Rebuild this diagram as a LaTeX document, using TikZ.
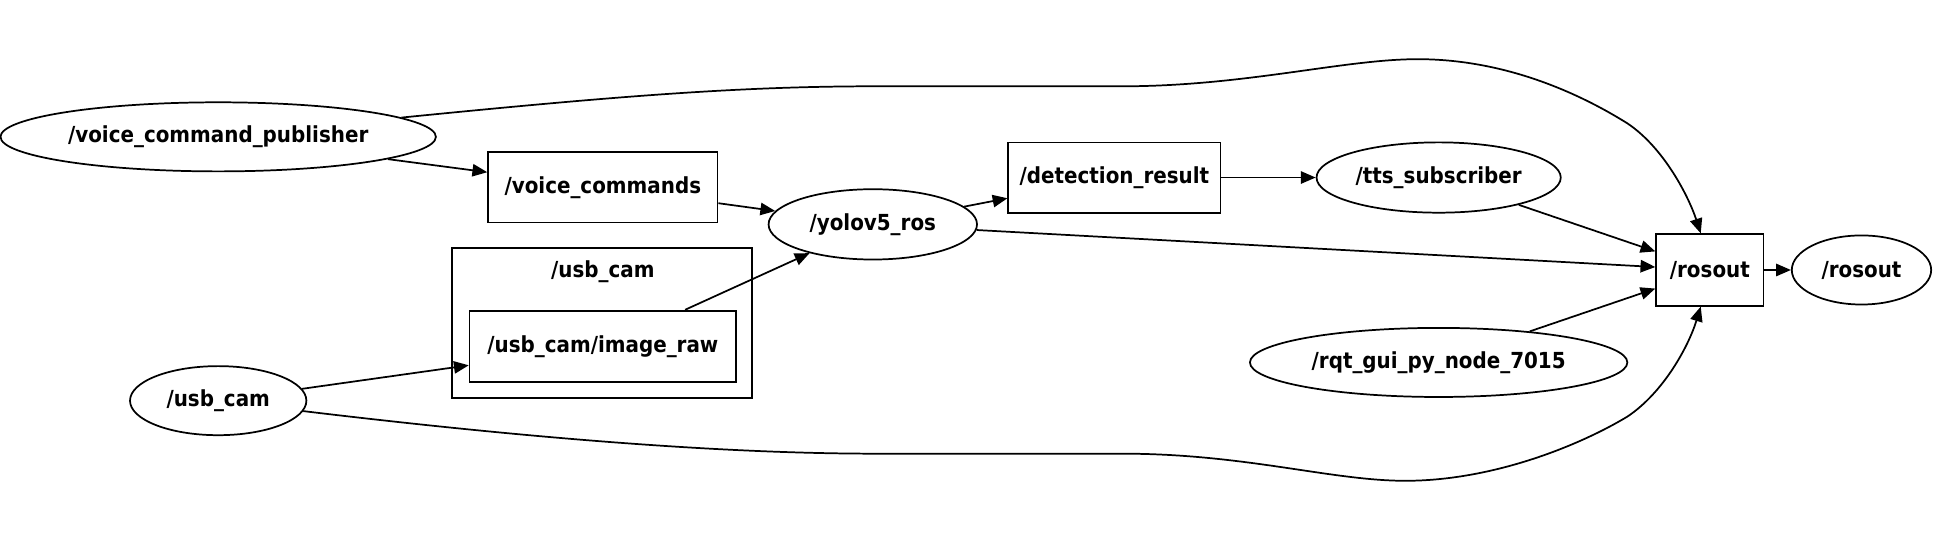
\documentclass[tikz,border=0pt]{standalone}
\usepackage{fontspec}
\setmainfont{DejaVu Sans Condensed}
\usetikzlibrary{arrows.meta, positioning, shapes.geometric}
\tikzset{
    %Define standard arrow tip
    >={Triangle[length=1.2mm,width=1mm]},
}

\begin{document}
\begin{tikzpicture}[x=0.01cm, y=-0.01cm,
    topic/.style = {draw, rectangle, inner sep=0pt,
                    font=\bfseries\fontsize{5.1}{6}\selectfont},
    rnode/.style = {draw, ellipse, inner sep=0pt,
                    font=\bfseries\fontsize{5.1}{6}\selectfont},
    grp/.style = {draw, rectangle, inner sep=0pt,
                  minimum width=2.43cm, minimum height=1.22cm},
  ]
  \useasboundingbox (0,0) rectangle (1568,439);
  \node[grp] (camgrp) at (488.5,262) {};
  \node[font=\bfseries\fontsize{5.1}{6}\selectfont] (camlbl) at (489,220) {/usb\_cam};
  \node[rnode, minimum width=3.53cm, minimum height=0.56cm] (vcp) at (177,111) {/voice\_command\_publisher};
  \node[topic, minimum width=1.86cm, minimum height=0.57cm] (vc) at (489,152) {/voice\_commands};
  \node[rnode, minimum width=1.69cm, minimum height=0.57cm] (yolo) at (708,182) {/yolov5\_ros};
  \node[topic, minimum width=2.16cm, minimum height=0.58cm] (imgraw) at (489,281) {/usb\_cam/image\_raw};
  \node[rnode, minimum width=1.43cm, minimum height=0.56cm] (usbcam) at (177,325) {/usb\_cam};
  \node[topic, minimum width=1.72cm, minimum height=0.57cm] (det) at (904,144) {/detection\_result};
  \node[rnode, minimum width=1.98cm, minimum height=0.57cm] (tts) at (1167,144) {/tts\_subscriber};
  \node[topic, minimum width=0.87cm, minimum height=0.58cm] (rosout) at (1387,219) {/rosout};
  \node[rnode, minimum width=1.13cm, minimum height=0.56cm] (rosoutn) at (1510,219) {/rosout};
  \node[rnode, minimum width=3.06cm, minimum height=0.56cm] (rqt) at (1167,294) {/rqt\_gui\_py\_node\_7015};

  \draw[->] (vcp) -- (vc);
  \draw[->] (vc) -- (yolo);
  \draw[->] (yolo) -- (det);
  \draw[->] (det) -- (tts);
  \draw[->] (tts) -- (rosout);
  \draw[->] (yolo) -- (rosout);
  \draw[->] (rqt) -- (rosout);
  \draw[->] (rosout) -- (rosoutn);
  \draw[->] (usbcam) -- (imgraw);
  \draw[->] (imgraw.24.7) -- (yolo);
  \draw[->] (vcp.6.5) .. controls (500,78) and (600,70) .. (710,70) -- (910,70)
    .. controls (1010,70) and (1090,48) .. (1150,48)
    .. controls (1220,48) and (1280,75) .. (1320,100)
    .. controls (1350,120) and (1370,160) .. (rosout.104);
  \draw[->] (usbcam.-7.5) .. controls (450,358) and (600,368) .. (710,368) -- (910,368)
    .. controls (1010,368) and (1080,390) .. (1140,390)
    .. controls (1210,390) and (1280,362) .. (1320,338)
    .. controls (1350,318) and (1370,280) .. (rosout.256);
\end{tikzpicture}
\end{document}
